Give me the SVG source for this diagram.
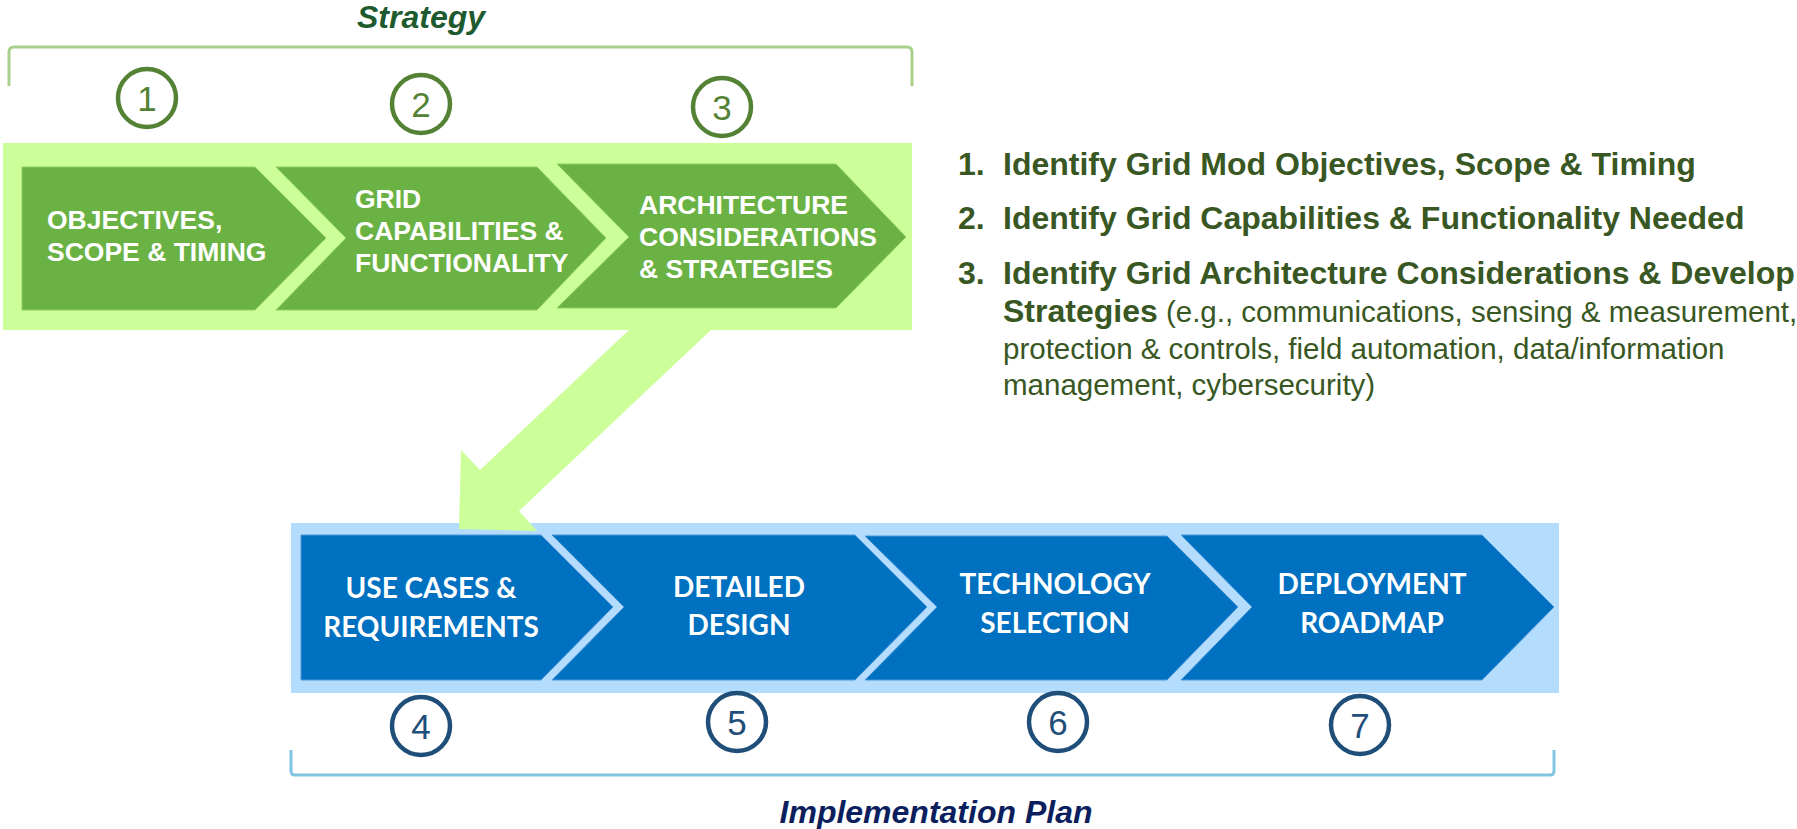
<svg xmlns="http://www.w3.org/2000/svg" width="1797" height="829" viewBox="0 0 1797 829">
<style>
.gchev{fill:#6bb244;stroke:#8fcf5e;stroke-width:1}
.bchev{fill:#0070c0;stroke:#4a98d8;stroke-width:1}
.gtxt{font-family:"Liberation Sans",Arial,sans-serif;font-weight:bold;font-size:26.5px;fill:#ffffff}
.btxt{font-family:Lato,"Liberation Sans",sans-serif;font-weight:bold;font-size:28px;fill:#ffffff;text-anchor:middle}
.gcirc{fill:#ffffff;stroke:#548235;stroke-width:4.5}
.bcirc{fill:#ffffff;stroke:#1f4e79;stroke-width:4.5}
.gnum{font-family:"Liberation Sans",Arial,sans-serif;font-size:35px;fill:#548235;text-anchor:middle}
.bnum{font-family:"Liberation Sans",Arial,sans-serif;font-size:35px;fill:#1f4e79;text-anchor:middle}
.list{font-family:"Liberation Sans",Arial,sans-serif;fill:#385723;font-size:29.5px}
.lb{font-weight:bold;font-size:32px}
</style>

<g id="strategy-title">
<text x="421" y="28" font-family="Liberation Sans,Arial,sans-serif" font-weight="bold" font-style="italic" font-size="32" fill="#1d5a2f" text-anchor="middle">Strategy</text>
<path d="M9,86 L9,52 Q9,47 14,47 L907,47 Q912,47 912,52 L912,86" fill="none" stroke="#a9d18e" stroke-width="3"/>
</g>

<g id="strategy-band">
<rect x="3" y="143" width="909" height="187" fill="#ccff99"/>
</g>

<g id="implementation-band">
<rect x="291" y="523" width="1268" height="170" fill="#b4dcfc"/>
</g>

<g id="connectors">
<polygon points="630,329 712,329 519,511 537,531 459,529 461,450 480,470" fill="#ccff99"/>
</g>

<g id="node-1">
<circle class="gcirc" cx="147" cy="98" r="29"/>
<text class="gnum" x="147" y="110.5">1</text>
<polygon class="gchev" points="22,167 255,167 326,238 255,310 22,310"/>
<text class="gtxt" x="47" y="229">OBJECTIVES,</text>
<text class="gtxt" x="47" y="261">SCOPE &amp; TIMING</text>
</g>

<g id="node-2">
<circle class="gcirc" cx="421" cy="104" r="29"/>
<text class="gnum" x="421" y="116.5">2</text>
<polygon class="gchev" points="276,167 537,167 606,238 537,310 276,310 346,238"/>
<text class="gtxt" x="355" y="208">GRID</text>
<text class="gtxt" x="355" y="240">CAPABILITIES &amp;</text>
<text class="gtxt" x="355" y="272">FUNCTIONALITY</text>
</g>

<g id="node-3">
<circle class="gcirc" cx="722" cy="107" r="29"/>
<text class="gnum" x="722" y="119.5">3</text>
<polygon class="gchev" points="557,164 836,164 906,237 836,308 557,308 629,237"/>
<text class="gtxt" x="639" y="214">ARCHITECTURE</text>
<text class="gtxt" x="639" y="246">CONSIDERATIONS</text>
<text class="gtxt" x="639" y="278">&amp; STRATEGIES</text>
</g>

<g id="node-4">
<polygon class="bchev" points="301,535 541,535 613,607 541,680 301,680"/>
<text class="btxt" x="431" y="598">USE CASES &amp;</text>
<text class="btxt" x="431" y="637">REQUIREMENTS</text>
<circle class="bcirc" cx="421" cy="726" r="29"/>
<text class="bnum" x="421" y="738.5">4</text>
</g>

<g id="node-5">
<polygon class="bchev" points="552,535 855,535 927,607 855,680 552,680 624,607"/>
<text class="btxt" x="739" y="597">DETAILED</text>
<text class="btxt" x="739" y="635">DESIGN</text>
<circle class="bcirc" cx="737" cy="722" r="29"/>
<text class="bnum" x="737" y="734.5">5</text>
</g>

<g id="node-6">
<polygon class="bchev" points="865,536 1167,536 1238,607 1167,680 865,680 937,607"/>
<text class="btxt" x="1055" y="594">TECHNOLOGY</text>
<text class="btxt" x="1055" y="633">SELECTION</text>
<circle class="bcirc" cx="1058" cy="722" r="29"/>
<text class="bnum" x="1058" y="734.5">6</text>
</g>

<g id="node-7">
<polygon class="bchev" points="1181,535 1482,535 1554,607 1482,680 1181,680 1252,607"/>
<text class="btxt" x="1372" y="594">DEPLOYMENT</text>
<text class="btxt" x="1372" y="633">ROADMAP</text>
<circle class="bcirc" cx="1360" cy="725" r="29"/>
<text class="bnum" x="1360" y="737.5">7</text>
</g>

<g id="implementation-title">
<path d="M291,750 L291,771 Q291,775 295,775 L1550,775 Q1554,775 1554,771 L1554,750" fill="none" stroke="#80c5e2" stroke-width="3"/>
<text x="936" y="823" font-family="Liberation Sans,Arial,sans-serif" font-weight="bold" font-style="italic" font-size="32" fill="#0b1f5e" text-anchor="middle">Implementation Plan</text>
</g>

<g id="step-list">
<text class="list lb" x="958" y="175">1.</text>
<text class="list lb" x="1003" y="175">Identify Grid Mod Objectives, Scope &amp; Timing</text>
<text class="list lb" x="958" y="229">2.</text>
<text class="list lb" x="1003" y="229">Identify Grid Capabilities &amp; Functionality Needed</text>
<text class="list lb" x="958" y="284">3.</text>
<text class="list lb" x="1003" y="284">Identify Grid Architecture Considerations &amp; Develop</text>
<text class="list" x="1003" y="322"><tspan class="lb">Strategies</tspan> (e.g., communications, sensing &amp; measurement,</text>
<text class="list" x="1003" y="359">protection &amp; controls, field automation, data/information</text>
<text class="list" x="1003" y="395">management, cybersecurity)</text>
</g>
</svg>
